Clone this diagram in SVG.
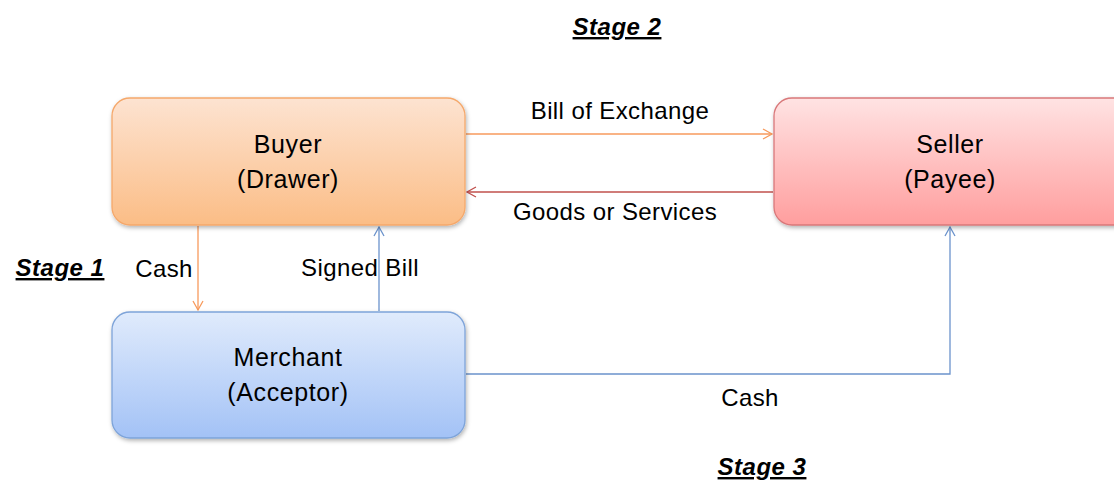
<svg xmlns="http://www.w3.org/2000/svg" width="1114" height="480" viewBox="0 0 1114 480">
<style>
.lbl{font-family:"Liberation Sans",Arial,sans-serif;font-size:24px;letter-spacing:0.4px;fill:#000}
.node{font-family:"Liberation Sans",Arial,sans-serif;font-size:25px;letter-spacing:0.6px;fill:#000;text-anchor:middle}
.stage{font-family:"Liberation Sans",Arial,sans-serif;font-size:24px;letter-spacing:0.5px;font-weight:bold;font-style:italic;text-decoration:underline;fill:#000}
.c{fill:none;stroke-width:1.3}
</style>
<defs>
<linearGradient id="gO" x1="0" y1="0" x2="0" y2="1"><stop offset="0" stop-color="#fde3d1"/><stop offset="1" stop-color="#fbbd86"/></linearGradient>
<linearGradient id="gR" x1="0" y1="0" x2="0" y2="1"><stop offset="0" stop-color="#ffe3e3"/><stop offset="1" stop-color="#ff9e9e"/></linearGradient>
<linearGradient id="gB" x1="0" y1="0" x2="0" y2="1"><stop offset="0" stop-color="#e0ebfc"/><stop offset="1" stop-color="#a3c2f6"/></linearGradient>
<filter id="sh" x="-10%" y="-10%" width="120%" height="130%"><feDropShadow dx="1" dy="2" stdDeviation="2" flood-color="#000" flood-opacity="0.3"/></filter>
<marker id="aO" markerWidth="12" markerHeight="12" refX="10" refY="6" orient="auto" markerUnits="userSpaceOnUse"><path d="M1,1 L10,6 L1,11" fill="none" stroke="#f79a5c" stroke-width="1.3"/></marker>
<marker id="aR" markerWidth="12" markerHeight="12" refX="10" refY="6" orient="auto" markerUnits="userSpaceOnUse"><path d="M1,1 L10,6 L1,11" fill="none" stroke="#c0504d" stroke-width="1.3"/></marker>
<marker id="aB" markerWidth="12" markerHeight="12" refX="10" refY="6" orient="auto" markerUnits="userSpaceOnUse"><path d="M1,1 L10,6 L1,11" fill="none" stroke="#6b93cc" stroke-width="1.3"/></marker>
</defs>
<rect width="1114" height="480" fill="#fff"/>
<g id="connectors">
<line class="c" x1="466" y1="134" x2="772" y2="134" stroke="#f79a5c" marker-end="url(#aO)"/>
<line class="c" x1="773" y1="192" x2="467" y2="192" stroke="#c0504d" marker-end="url(#aR)"/>
<line class="c" x1="198" y1="226" x2="198" y2="310" stroke="#f79a5c" marker-end="url(#aO)"/>
<line class="c" x1="379" y1="311" x2="379" y2="227" stroke="#6b93cc" marker-end="url(#aB)"/>
<polyline class="c" points="466,374 950,374 950,227" stroke="#6b93cc" marker-end="url(#aB)"/>
</g>
<g id="buyer">
<rect x="112" y="98" width="353" height="127" rx="18" fill="url(#gO)" stroke="#f5a86b" stroke-width="1.3" filter="url(#sh)"/>
<text class="node" x="288" y="153">Buyer</text>
<text class="node" x="288" y="188">(Drawer)</text>
</g>
<g id="seller">
<rect x="774" y="98" width="360" height="127" rx="18" fill="url(#gR)" stroke="#d9787a" stroke-width="1.3" filter="url(#sh)"/>
<text class="node" x="950" y="153">Seller</text>
<text class="node" x="950" y="188">(Payee)</text>
</g>
<g id="merchant">
<rect x="112" y="312" width="353" height="126" rx="18" fill="url(#gB)" stroke="#7ea4d9" stroke-width="1.3" filter="url(#sh)"/>
<text class="node" x="288" y="366">Merchant</text>
<text class="node" x="288" y="401">(Acceptor)</text>
</g>
<g id="labels">
<text class="lbl" x="620" y="119" text-anchor="middle">Bill of Exchange</text>
<text class="lbl" x="615" y="220" text-anchor="middle">Goods or Services</text>
<text class="lbl" x="164" y="277" text-anchor="middle">Cash</text>
<text class="lbl" x="360" y="276" text-anchor="middle">Signed Bill</text>
<text class="lbl" x="750" y="406" text-anchor="middle">Cash</text>
<text class="stage" x="617" y="35" text-anchor="middle">Stage 2</text>
<text class="stage" x="60" y="276" text-anchor="middle">Stage 1</text>
<text class="stage" x="762" y="475" text-anchor="middle">Stage 3</text>
</g>
</svg>
